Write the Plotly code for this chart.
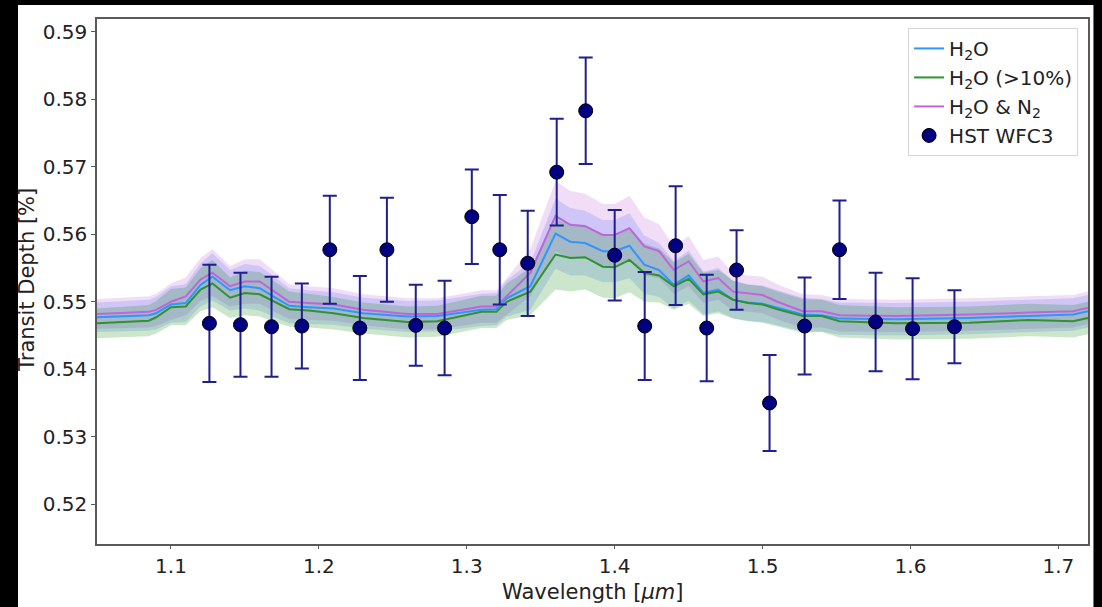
import plotly.graph_objects as go

# ---------------- data ----------------
wl_model = [1.05, 1.085, 1.09, 1.10, 1.11, 1.12, 1.128, 1.14, 1.15, 1.16, 1.17, 1.18, 1.193,
            1.21, 1.23, 1.26, 1.28, 1.31, 1.32, 1.327, 1.343, 1.36, 1.37, 1.38, 1.392, 1.40,
            1.41, 1.42, 1.43, 1.44, 1.45, 1.46, 1.47, 1.48, 1.49, 1.50, 1.51, 1.527, 1.54,
            1.552, 1.59, 1.64, 1.68, 1.71, 1.72]

h2o = [0.5477, 0.5480, 0.5483, 0.5496, 0.5498, 0.5525, 0.5537, 0.5517, 0.5523, 0.5520, 0.5507,
       0.5494, 0.5492, 0.5490, 0.5483, 0.5478, 0.5479, 0.5488, 0.5489, 0.5505, 0.5523, 0.5601,
       0.5589, 0.5587, 0.5575, 0.5575, 0.5583, 0.5555, 0.5547, 0.5525, 0.5539, 0.5513, 0.5518,
       0.5503, 0.5499, 0.5497, 0.5491, 0.5481, 0.5480, 0.5475, 0.5474, 0.5476, 0.5479, 0.5481,
       0.5486]

h2o_10 = [0.5468, 0.5472, 0.5477, 0.5492, 0.5493, 0.5518, 0.5527, 0.5506, 0.5513, 0.5511, 0.5500,
          0.5489, 0.5487, 0.5483, 0.5476, 0.5470, 0.5471, 0.5485, 0.5485, 0.5500, 0.5515, 0.5570,
          0.5565, 0.5566, 0.5552, 0.5551, 0.5562, 0.5543, 0.5539, 0.5523, 0.5534, 0.5511, 0.5515,
          0.5503, 0.5498, 0.5496, 0.5489, 0.5479, 0.5479, 0.5471, 0.5468, 0.5469, 0.5473, 0.5471,
          0.5476]

h2o_n2 = [0.5482, 0.5485, 0.5488, 0.5500, 0.5508, 0.5533, 0.5543, 0.5523, 0.5530, 0.5530, 0.5515,
          0.5500, 0.5498, 0.5496, 0.5488, 0.5482, 0.5482, 0.5493, 0.5493, 0.5508, 0.5543, 0.5627,
          0.5614, 0.5612, 0.5599, 0.5599, 0.5609, 0.5582, 0.5575, 0.5547, 0.5560, 0.5530, 0.5535,
          0.5515, 0.5512, 0.5510, 0.5500, 0.5486, 0.5486, 0.5480, 0.5479, 0.5481, 0.5484, 0.5486,
          0.5491]

band_hw = [0.0022, 0.0023, 0.0024, 0.0027, 0.0028, 0.0032, 0.0035, 0.0030, 0.0033, 0.0033, 0.0030,
           0.0026, 0.0025, 0.0024, 0.0023, 0.0023, 0.0023, 0.0024, 0.0024, 0.0027, 0.0035, 0.0052,
           0.0050, 0.0048, 0.0046, 0.0046, 0.0048, 0.0043, 0.0040, 0.0035, 0.0037, 0.0032, 0.0032,
           0.0028, 0.0027, 0.0027, 0.0026, 0.0025, 0.0024, 0.0024, 0.0024, 0.0024, 0.0024, 0.0024,
           0.0024]

wl_obs = [1.126, 1.147, 1.168, 1.1885, 1.2074, 1.2277, 1.246, 1.2655, 1.285, 1.3034, 1.3223,
          1.3412, 1.3608, 1.3804, 1.400, 1.4203, 1.4412, 1.4622, 1.4824, 1.5047, 1.5284, 1.552,
          1.5764, 1.6014, 1.6297]
depth_obs = [0.5468, 0.5466, 0.5463, 0.5464, 0.5577, 0.5461, 0.5577, 0.5465, 0.5461, 0.5626,
             0.5577, 0.5557, 0.5692, 0.5783, 0.5569, 0.5464, 0.5583, 0.5461, 0.5547, 0.5350,
             0.5464, 0.5577, 0.5470, 0.5460, 0.5463]
err_obs = [0.0087, 0.0077, 0.0074, 0.0063, 0.0080, 0.0077, 0.0077, 0.0060, 0.0070, 0.0070,
           0.0081, 0.0078, 0.0079, 0.0079, 0.0067, 0.0080, 0.0088, 0.0079, 0.0059, 0.0071,
           0.0072, 0.0073, 0.0073, 0.0075, 0.0054]

x_ticks = [1.1, 1.2, 1.3, 1.4, 1.5, 1.6, 1.7]
y_ticks = [0.52, 0.53, 0.54, 0.55, 0.56, 0.57, 0.58, 0.59]

# ---------------- figure ----------------
FONT = "DejaVu Sans"
fig = go.Figure()


def add_band(y, color):
    upper = [v + h for v, h in zip(y, band_hw)]
    lower = [v - h for v, h in zip(y, band_hw)]
    fig.add_trace(go.Scatter(
        x=wl_model + wl_model[::-1], y=upper + lower[::-1],
        fill="toself", fillcolor=color, mode="lines", line=dict(width=0),
        showlegend=False, hoverinfo="skip"))


add_band(h2o_n2, "rgba(186,85,211,0.20)")
add_band(h2o, "rgba(40,90,255,0.17)")
add_band(h2o_10, "rgba(0,128,0,0.20)")

fig.add_trace(go.Scatter(x=wl_model, y=h2o, mode="lines", name="H<sub>2</sub>O",
                         line=dict(color="#2f96ff", width=2)))
fig.add_trace(go.Scatter(x=wl_model, y=h2o_10, mode="lines", name="H<sub>2</sub>O (>10%)",
                         line=dict(color="#2e942e", width=2)))
fig.add_trace(go.Scatter(x=wl_model, y=h2o_n2, mode="lines", name="H<sub>2</sub>O & N<sub>2</sub>",
                         line=dict(color="#c064dc", width=2)))

fig.add_trace(go.Scatter(
    x=wl_obs, y=depth_obs, mode="markers", name="HST WFC3",
    marker=dict(color="#000080", size=14, line=dict(color="black", width=1)),
    error_y=dict(type="data", array=err_obs, visible=True, color="#1f1f8f",
                 thickness=2, width=7)))

# white "page" over black background
fig.add_shape(type="rect", xref="paper", yref="paper",
              x0=-0.0797, x1=1.0055, y0=-0.125, y1=1.0267,
              fillcolor="white", line=dict(width=0), layer="below")

fig.update_layout(
    width=1102, height=607,
    margin=dict(l=97, r=14, t=19, b=63),
    paper_bgcolor="black", plot_bgcolor="white",
    font=dict(family=FONT, size=20, color="#222222"),
    showlegend=True,
    legend=dict(x=0.99, y=0.983, xanchor="right", yanchor="top",
                bgcolor="white", bordercolor="#d6d6d6", borderwidth=1,
                font=dict(family=FONT, size=20, color="#222222"),
                traceorder="normal", tracegroupgap=0),
    annotations=[
        dict(text="Wavelength [<i>μm</i>]", xref="paper", yref="paper",
             x=0.5005, y=-0.092, xanchor="center", yanchor="middle", showarrow=False,
             font=dict(family=FONT, size=21, color="#222222")),
        dict(text="Transit Depth [%]", xref="paper", yref="paper", textangle=-90,
             x=-0.0706, y=0.503, xanchor="center", yanchor="middle", showarrow=False,
             font=dict(family=FONT, size=21, color="#222222")),
    ],
)

fig.update_xaxes(range=[1.05, 1.72], tickvals=x_ticks, tickformat=".1f",
                 showgrid=False, zeroline=False, showline=True, mirror=True,
                 linecolor="#5a5a5a", linewidth=1.5, ticks="outside", ticklen=3,
                 tickcolor="#5a5a5a", tickfont=dict(size=20, color="#222222"))
fig.update_yaxes(range=[0.5141, 0.5919], tickvals=y_ticks, tickformat=".2f",
                 showgrid=False, zeroline=False, showline=True, mirror=True,
                 linecolor="#5a5a5a", linewidth=1.5, ticks="outside", ticklen=4,
                 tickcolor="#5a5a5a", tickfont=dict(size=20, color="#222222"))

fig.write_html("out.html")
